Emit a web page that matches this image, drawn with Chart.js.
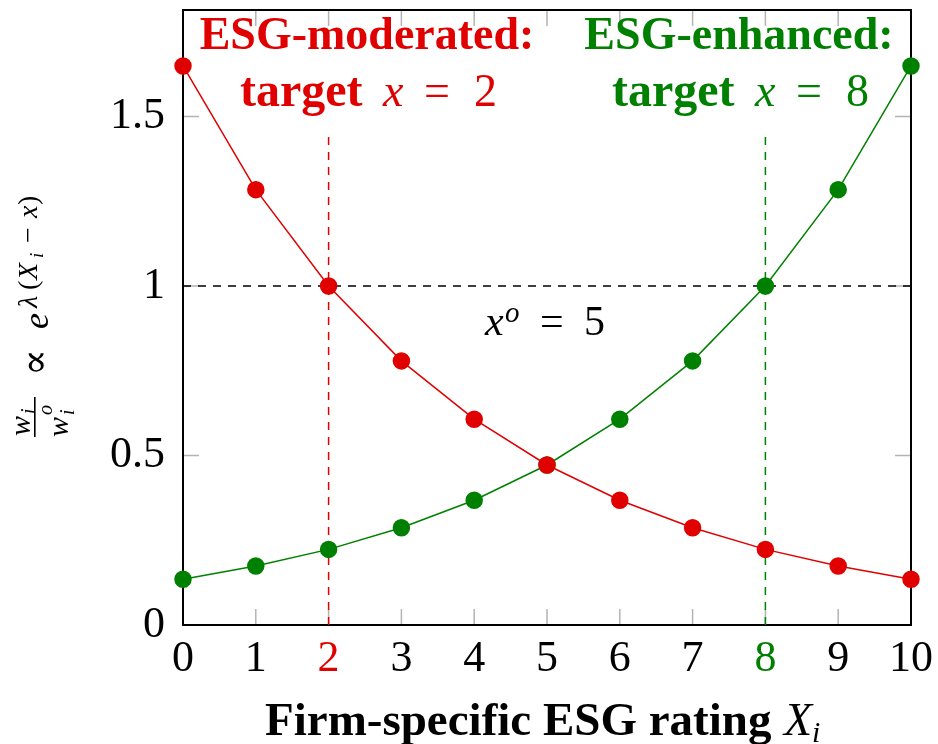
<!DOCTYPE html>
<html lang="en">
<head>
  <meta charset="UTF-8" />
  <title>ESG weights</title>
  <style>
    html, body { margin: 0; padding: 0; background: #fff; }
    #wrap { width: 938px; height: 744px; }
  </style>
</head>
<body>
  <div id="wrap"><canvas id="esgChart" width="938" height="744"></canvas></div>

<script src="https://cdn.jsdelivr.net/npm/chart.js"></script>
<script>
// data
const ratings = [0, 1, 2, 3, 4, 5, 6, 7, 8, 9, 10];
const moderated = [1.649, 1.284, 1.000, 0.779, 0.607, 0.472, 0.368, 0.287, 0.223, 0.174, 0.135];
const enhanced = [0.135, 0.174, 0.223, 0.287, 0.368, 0.472, 0.607, 0.779, 1.000, 1.284, 1.649];
const yTicks = [0, 0.5, 1, 1.5];
const yTickLabels = ["0", "0.5", "1", "1.5"];
const targetModerated = 2;
const targetEnhanced = 8;
const neutralLevel = 1;
const targetLineTop = 1.46;

const RED = "#e00000";
const GREEN = "#008000";
const SERIF = "'Liberation Serif', 'DejaVu Serif', serif";

const toPoints = ys => ratings.map((x, i) => ({ x, y: ys[i] }));

const bold = s => "bold " + s + "px " + SERIF;
const reg = s => s + "px " + SERIF;
const ital = s => "italic " + s + "px " + SERIF;

// text piece at its left edge / baseline
function put(ctx, t, font, x, y, color) {
  ctx.font = font;
  ctx.fillStyle = color || "#000";
  ctx.textAlign = "left";
  ctx.textBaseline = "alphabetic";
  ctx.fillText(t, x, y);
}

function putCentered(ctx, t, font, cx, y, color) {
  ctx.font = font;
  put(ctx, t, font, cx - ctx.measureText(t).width / 2, y, color);
}

function caption(ctx, head, target, dx, color) {
  putCentered(ctx, head, bold(46), 367 + dx, 49, color);
  put(ctx, "target", bold(48), 240 + dx, 106, color);
  put(ctx, "x", ital(46), 383 + dx, 106, color);
  put(ctx, "=", reg(46), 424 + dx, 106, color);
  put(ctx, target, reg(46), 474 + dx, 106, color);
}

const framePlugin = {
  id: "frame",
  beforeDatasetsDraw(chart) {
    const { ctx, chartArea: a, scales: { x, y } } = chart;
    ctx.save();
    // inner ticks, all four sides
    ctx.strokeStyle = "#b4b4b4";
    ctx.lineWidth = 1.5;
    ctx.beginPath();
    ratings.forEach(v => {
      const px = x.getPixelForValue(v);
      ctx.moveTo(px, a.bottom); ctx.lineTo(px, a.bottom - 16);
      ctx.moveTo(px, a.top); ctx.lineTo(px, a.top + 16);
    });
    yTicks.forEach(v => {
      const py = y.getPixelForValue(v);
      ctx.moveTo(a.left, py); ctx.lineTo(a.left + 16, py);
      ctx.moveTo(a.right, py); ctx.lineTo(a.right - 16, py);
    });
    ctx.stroke();
    ctx.strokeStyle = "#000";
    ctx.lineWidth = 2;
    ctx.strokeRect(a.left, a.top, a.right - a.left, a.bottom - a.top);
    ctx.restore();
  },
  afterDraw(chart) {
    const { ctx } = chart;
    ctx.save();

    // series captions
    caption(ctx, "ESG-moderated:", "2", 0, RED);
    caption(ctx, "ESG-enhanced:", "8", 372, GREEN);

    // x^o = 5 under the dashed level line
    put(ctx, "x", ital(42), 485, 335);
    put(ctx, "o", ital(29), 505, 322);
    put(ctx, "=", reg(42), 540, 335);
    put(ctx, "5", reg(42), 584, 335);

    // x axis title
    put(ctx, "Firm-specific ESG rating", bold(47), 265, 735);
    put(ctx, "X", ital(46), 784, 735);
    put(ctx, "i", ital(30), 812, 742);

    // y axis title, rotated (x runs upwards, y runs rightwards)
    ctx.translate(49, 438);
    ctx.rotate(-Math.PI / 2);
    put(ctx, "w", ital(30), 2, -19);
    put(ctx, "i", ital(20), 24, -14);
    ctx.fillRect(1, -15, 40, 1.6);
    put(ctx, "w", ital(30), 1, 19);
    put(ctx, "o", ital(20), 23, 3);
    put(ctx, "i", ital(20), 23, 25);
    put(ctx, "\u221D", "40px 'DejaVu Serif', serif", 62, -1);
    put(ctx, "e", ital(36), 109, -1);
    put(ctx, "\u03BB", ital(28), 130, -12);
    put(ctx, "(", reg(28), 148, -12);
    put(ctx, "X", ital(28), 158, -12);
    put(ctx, "i", ital(19), 180, -6);
    put(ctx, "\u2212", reg(28), 195, -12);
    put(ctx, "x", ital(28), 220, -12);
    put(ctx, ")", reg(28), 233, -12);

    ctx.restore();
  }
};

const lineStyle = (color) => ({
  borderColor: color,
  backgroundColor: color,
  pointBackgroundColor: color,
  pointBorderColor: color,
  borderWidth: 1.5,
  pointRadius: 8,
  pointHoverRadius: 8,
  tension: 0,
  clip: false
});

const dashStyle = (color) => ({
  borderColor: color,
  borderWidth: 1.5,
  borderDash: [8, 7],
  pointRadius: 0,
  tension: 0,
  clip: false,
  order: 3
});

new Chart(document.getElementById("esgChart"), {
  type: "line",
  data: {
    datasets: [
      { label: "ESG-moderated", data: toPoints(moderated), ...lineStyle(RED), order: 1 },
      { label: "ESG-enhanced", data: toPoints(enhanced), ...lineStyle(GREEN), order: 2 },
      { label: "level", data: [{ x: 0, y: neutralLevel }, { x: 10, y: neutralLevel }], ...dashStyle("#000") },
      { label: "target 2", data: [{ x: targetModerated, y: 0 }, { x: targetModerated, y: targetLineTop }], ...dashStyle(RED) },
      { label: "target 8", data: [{ x: targetEnhanced, y: 0 }, { x: targetEnhanced, y: targetLineTop }], ...dashStyle(GREEN) }
    ]
  },
  options: {
    responsive: false,
    animation: false,
    events: [],
    layout: { padding: { left: 0, right: 27, top: 10, bottom: 0 } },
    plugins: { legend: { display: false }, tooltip: { enabled: false } },
    scales: {
      x: {
        type: "linear",
        min: 0,
        max: 10,
        grid: { display: false, drawTicks: false },
        border: { display: false },
        afterFit: s => { s.height = 119; s.paddingLeft = 0; s.paddingRight = 0; },
        afterBuildTicks: s => { s.ticks = ratings.map(v => ({ value: v })); },
        ticks: {
          padding: 8,
          font: { family: SERIF, size: 44 },
          color: c => c.tick.value === targetModerated ? RED : (c.tick.value === targetEnhanced ? GREEN : "#000"),
          maxRotation: 0,
          autoSkip: false
        }
      },
      y: {
        type: "linear",
        min: 0,
        max: 1.814,
        grid: { display: false, drawTicks: false },
        border: { display: false },
        afterFit: s => { s.width = 183; s.paddingTop = 0; s.paddingBottom = 0; },
        afterBuildTicks: s => { s.ticks = yTicks.map(v => ({ value: v })); },
        ticks: {
          padding: 18,
          font: { family: SERIF, size: 44 },
          color: "#000",
          callback: v => yTickLabels[yTicks.indexOf(v)]
        }
      }
    }
  },
  plugins: [framePlugin]
});
</script>
</body>
</html>
